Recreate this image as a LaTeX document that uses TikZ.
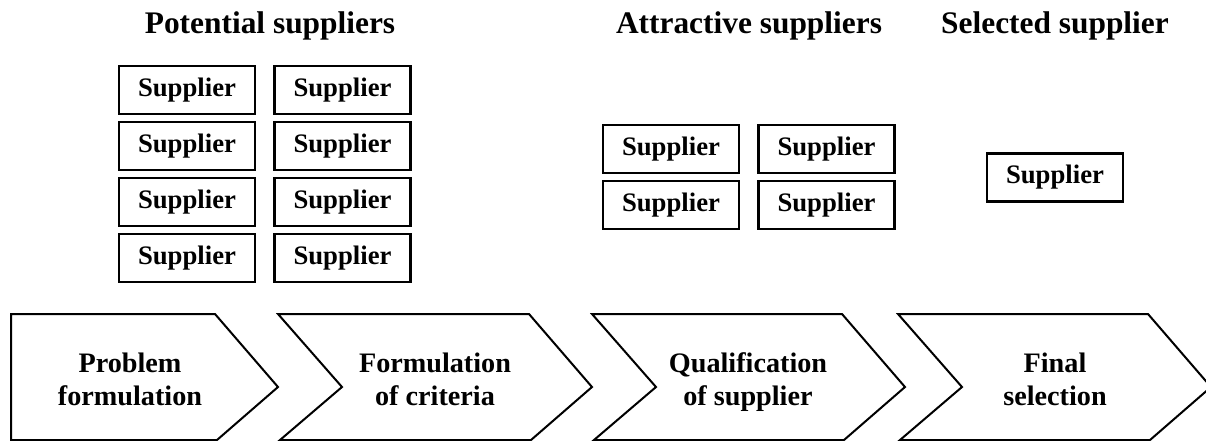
\documentclass[tikz,border=0pt]{standalone}
\usepackage{fontspec}
\setmainfont{Liberation Serif}
\begin{document}
\begin{tikzpicture}[x=0.5pt,y=-0.5pt,
  header/.style={font=\fontsize{15.7}{18}\selectfont\bfseries, anchor=base},
  supplier/.style={draw, line width=1.2pt, minimum width=68pt, minimum height=24pt,
    inner sep=0pt, font=\fontsize{13.35}{16}\selectfont\bfseries},
  stage/.style={align=center, inner sep=0pt, anchor=north,
    font=\fontsize{14.1}{16.5}\selectfont\bfseries},
  chevron/.style={draw, line width=1pt, line join=miter}]
\path[use as bounding box] (0,0) rectangle (1206,440);

% process chevrons along the bottom
\begin{scope}
  \clip (0,0) rectangle (1206,440);
  \draw[chevron] (11,314) -- (215,314) -- (278,387) -- (217,440) -- (11,440) -- cycle;
  \foreach \l/\r in {278/529, 592/842, 898/1148}{
    \draw[chevron] (\l,314) -- (\r,314) -- (\r+63,387) -- (\r+2,440)
      -- (\l+2,440) -- (\l+64,387) -- cycle;
  }
\end{scope}
\node[stage] (s1) at (130,349) {\strut Problem\\\strut formulation};
\node[stage] (s2) at (435,349) {\strut Formulation\\\strut of criteria};
\node[stage] (s3) at (748,349) {\strut Qualification\\\strut of supplier};
\node[stage] (s4) at (1055,349) {\strut Final\\\strut selection};

% headings
\node[header] (h1) at (270,33) {Potential suppliers};
\node[header] (h2) at (749,33) {Attractive suppliers};
\node[header] (h3) at (1055,33) {Selected supplier};

% supplier boxes
\foreach \y [count=\i] in {90,146,202,258}{
  \node[supplier] (p\i a) at (187,\y) {Supplier};
  \node[supplier] (p\i b) at (342.5,\y) {Supplier};
}
\foreach \y [count=\i] in {149,205}{
  \node[supplier] (a\i a) at (671,\y) {Supplier};
  \node[supplier] (a\i b) at (826.5,\y) {Supplier};
}
\node[supplier] (sel) at (1055,177.5) {Supplier};
\end{tikzpicture}
\end{document}
